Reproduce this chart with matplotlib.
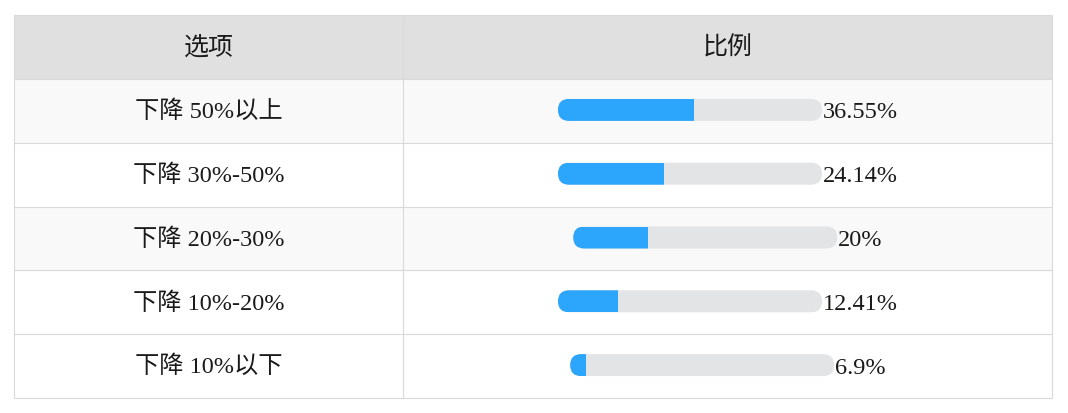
import matplotlib
matplotlib.use('Agg')
import matplotlib.pyplot as plt
from matplotlib.patches import Rectangle, FancyBboxPatch

plt.rcParams['font.family'] = ['Liberation Serif', 'Noto Sans CJK SC', 'DejaVu Sans']

# data
headers = ['选项', '比例']
options = ['下降 50%以上', '下降 30%-50%', '下降 20%-30%', '下降 10%-20%', '下降 10%以下']
ratios = [36.55, 24.14, 20, 12.41, 6.9]
# blue part of each progress bar, as drawn in the original (share of the track)
bar_fill = [0.515, 0.40, 0.285, 0.227, 0.06]

# layout in pixels
W, H = 1068, 414
left, right = 14, 1052
top = 16
header_h = 64
row_h = 63.8
col_split = 403
track_w = 264
track_h = 22
line_c = '#d9d9d9'
text_c = '#1a1a1a'
blue = '#2ca5fc'
track_c = '#e3e4e6'
fs = 17.5

fig = plt.figure(figsize=(W / 100, H / 100), dpi=100)
ax = fig.add_axes([0, 0, 1, 1])
ax.set_xlim(0, W)
ax.set_ylim(H, 0)
ax.axis('off')

# header
ax.add_patch(Rectangle((left, top), right - left, header_h, facecolor='#e0e0e0', edgecolor='none'))
ax.text((left + col_split) / 2, top + header_h / 2, headers[0], ha='center', va='center',
        fontsize=18, color=text_c)
ax.text((col_split + right) / 2, top + header_h / 2, headers[1], ha='center', va='center',
        fontsize=18, color=text_c)

bottom = top + header_h + row_h * len(options)
labels = []
for i, (opt, val) in enumerate(zip(options, ratios)):
    y0 = top + header_h + i * row_h
    yc = y0 + row_h / 2
    bg = '#f9f9f9' if i % 2 == 0 and i < 3 else 'white'
    ax.add_patch(Rectangle((left, y0), right - left, row_h, facecolor=bg, edgecolor='none'))
    ax.hlines(y0, left, right, colors=line_c, lw=0.8)
    ax.text((left + col_split) / 2, yc, opt, ha='center', va='center', fontsize=fs, color=text_c)
    t = ax.text(0, yc, f'{val:g}%', ha='left', va='center', fontsize=fs, color=text_c)
    labels.append(t)

# borders
ax.hlines([top, bottom], left, right, colors=line_c, lw=0.8)
ax.vlines([left, col_split, right], top, bottom, colors=line_c, lw=0.8)

# progress bars: bar + label centred in the column
fig.canvas.draw()
renderer = fig.canvas.get_renderer()
col_c = (col_split + right) / 2
for i, t in enumerate(labels):
    tw = t.get_window_extent(renderer).width
    x0 = col_c - (track_w + tw) / 2
    yc = top + header_h + i * row_h + row_h / 2
    yb = yc - track_h / 2 - 1
    ax.add_patch(FancyBboxPatch((x0, yb), track_w, track_h,
                                boxstyle='round,pad=0,rounding_size=11',
                                facecolor=track_c, edgecolor='none'))
    fill = FancyBboxPatch((x0, yb), track_w, track_h,
                          boxstyle='round,pad=0,rounding_size=11',
                          facecolor=blue, edgecolor='none')
    ax.add_patch(fill)
    fill.set_clip_path(Rectangle((x0, yb), track_w * bar_fill[i], track_h, transform=ax.transData))
    t.set_position((x0 + track_w + 1, yc + 1))

fig.savefig('out.png', dpi=100)
